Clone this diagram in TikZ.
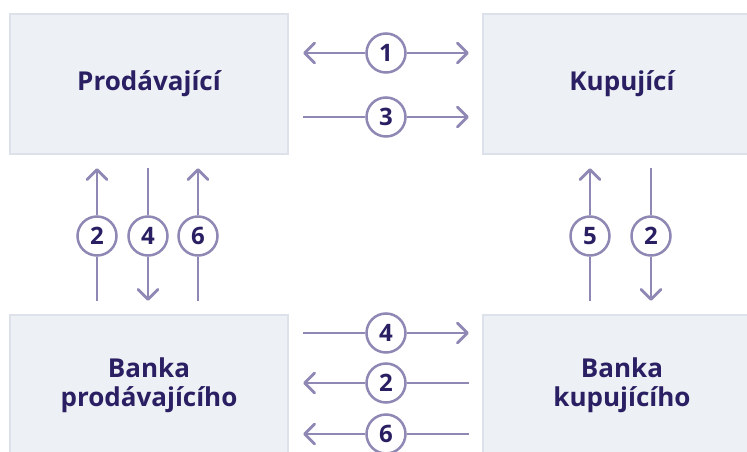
\documentclass[tikz,border=0pt]{standalone}
\usepackage{fontspec}
\setmainfont{Open Sans}
\usetikzlibrary{arrows.meta}
\definecolor{boxfill}{HTML}{EDF0F4}
\definecolor{boxline}{HTML}{DDE1EA}
\definecolor{arrcol}{HTML}{8F88B5}
\definecolor{txtcol}{HTML}{2A1F63}
\tikzset{
  party/.style={draw=boxline, fill=boxfill, line width=2.5pt, minimum width=278pt, minimum height=140pt,
    inner sep=0pt, align=center, text=txtcol, font=\fontsize{26}{29}\selectfont\bfseries},
  num/.style={circle, draw=arrcol, fill=white, line width=2.5pt, minimum size=39pt, inner sep=0pt,
    text=txtcol, font=\fontsize{24}{24}\selectfont\bfseries},
  tip/.tip={Straight Barb[length=10pt,width=20pt,line cap=round,line join=round]},
  arr/.style={draw=arrcol, line width=2.8pt, -tip},
  arrb/.style={draw=arrcol, line width=2.8pt, tip-tip},
  ln/.style={draw=arrcol, line width=2.8pt},
  gapv/.style={shorten >=13pt},
}
\begin{document}
\begin{tikzpicture}[x=1pt,y=-1pt]
\useasboundingbox (0,0) rectangle (747,452);
\clip (0,0) rectangle (747,452);
\fill[white] (0,0) rectangle (747,452);
% parties
\node[party] (S)  at (149,84)  {Prodávající};
\node[party] (B)  at (622,84)  {Kupující};
\node[party] (SB) at (149,385) {Banka\\prodávajícího};
\node[party] (BB) at (622,385) {Banka\\kupujícího};
% number circles
\node[num] (h1) at (386,53)  {1};
\node[num] (h3) at (386,117) {3};
\node[num] (h4) at (386,333) {4};
\node[num] (h2) at (386,383) {2};
\node[num] (h6) at (386,434) {6};
\node[num] (v2) at (97,236)  {2};
\node[num] (v4) at (148,236) {4};
\node[num] (v6) at (198,236) {6};
\node[num] (v5) at (590,236) {5};
\node[num] (w2) at (651,236) {2};
% horizontal connectors
\draw[arr, shorten >=14pt] (h1) -- (h1 -| S.east);
\draw[arr, shorten >=13pt] (h1) -- (h1 -| B.west);
\draw[ln, shorten >=14pt] (h3) -- (h3 -| S.east);
\draw[arr, shorten >=13pt] (h3) -- (h3 -| B.west);
\draw[ln, shorten >=14pt] (h4) -- (h4 -| SB.east);
\draw[arr, shorten >=13pt] (h4) -- (h4 -| BB.west);
\draw[arr, shorten >=14pt] (h2) -- (h2 -| SB.east);
\draw[ln, shorten >=13pt] (h2) -- (h2 -| BB.west);
\draw[arr, shorten >=14pt] (h6) -- (h6 -| SB.east);
\draw[ln, shorten >=13pt] (h6) -- (h6 -| BB.west);
% vertical connectors
\draw[arr, gapv] (v2) -- (v2 |- S.south);
\draw[ln, gapv] (v2) -- (v2 |- SB.north);
\draw[ln, gapv] (v4) -- (v4 |- S.south);
\draw[arr, gapv] (v4) -- (v4 |- SB.north);
\draw[arr, gapv] (v6) -- (v6 |- S.south);
\draw[ln, gapv] (v6) -- (v6 |- SB.north);
\draw[arr, gapv] (v5) -- (v5 |- B.south);
\draw[ln, gapv] (v5) -- (v5 |- BB.north);
\draw[ln, gapv] (w2) -- (w2 |- B.south);
\draw[arr, gapv] (w2) -- (w2 |- BB.north);
\end{tikzpicture}
\end{document}
